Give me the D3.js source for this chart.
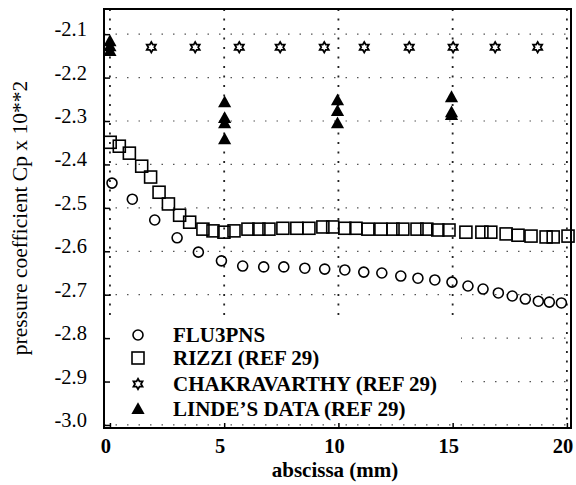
<!DOCTYPE html>
<html>
<head>
<meta charset="utf-8">
<script src="https://cdn.jsdelivr.net/npm/d3@7"></script>
<style>
  html, body { margin: 0; padding: 0; background: #fff; }
  svg { display: block; }
  text { font-family: "Liberation Serif", "Times New Roman", serif; fill: #000; }
</style>
</head>
<body>
<svg id="chart" width="576" height="485"></svg>
<script>
// ---- data ----
const xTicks = [0, 5, 10, 15, 20];
const yTicks = [-2.1, -2.2, -2.3, -2.4, -2.5, -2.6, -2.7, -2.8, -2.9, -3.0];
const yTickLabels = ["-2.1", "-2.2", "-2.3", "-2.4", "-2.5", "-2.6", "-2.7", "-2.8", "-2.9", "-3.0"];

const flu3pnsX = [0.09, 0.98, 1.96, 2.94, 3.87, 4.88, 5.81, 6.73, 7.61, 8.53, 9.40, 10.28, 11.11,
  11.90, 12.73, 13.48, 14.22, 14.97, 15.67, 16.33, 17.00, 17.61, 18.18, 18.75, 19.23, 19.76];
const flu3pnsY = [-2.443, -2.480, -2.528, -2.569, -2.602, -2.622, -2.634, -2.636, -2.636, -2.639,
  -2.641, -2.643, -2.648, -2.650, -2.657, -2.662, -2.666, -2.671, -2.680, -2.687, -2.696, -2.703,
  -2.710, -2.715, -2.717, -2.719];

const rizziX = [0.01, 0.41, 0.85, 1.39, 1.78, 2.15, 2.56, 3.05, 3.49, 4.07, 4.51, 4.99, 5.43, 6.04,
  6.52, 6.96, 7.57, 8.18, 8.71, 9.32, 9.75, 10.28, 10.77, 11.29, 11.86, 12.39, 12.82, 13.44, 13.87,
  14.35, 14.84, 15.58, 16.28, 16.67, 17.34, 17.86, 18.43, 19.09, 19.40, 20.05];
const rizziY = [-2.349, -2.358, -2.374, -2.404, -2.429, -2.464, -2.491, -2.517, -2.533, -2.549,
  -2.553, -2.556, -2.553, -2.549, -2.549, -2.549, -2.547, -2.547, -2.547, -2.544, -2.544, -2.547,
  -2.547, -2.549, -2.549, -2.549, -2.549, -2.549, -2.549, -2.551, -2.551, -2.556, -2.556, -2.556,
  -2.560, -2.563, -2.565, -2.567, -2.567, -2.565];

const chakX = [1.81, 3.73, 5.66, 7.45, 9.38, 11.13, 13.10, 15.02, 16.86, 18.72];
const chakY = [-2.130, -2.130, -2.130, -2.130, -2.130, -2.130, -2.130, -2.130, -2.130, -2.130];

const lindeX = [0, 0, 0, 5.02, 5.02, 5.02, 5.02, 9.96, 9.96, 9.96, 14.95, 14.95, 14.95];
const lindeY = [-2.116, -2.128, -2.139, -2.257, -2.293, -2.305, -2.342, -2.252, -2.277, -2.305,
  -2.245, -2.280, -2.286];

const legendLabels = ["FLU3PNS", "RIZZI (REF 29)", "CHAKRAVARTHY (REF 29)", "LINDE\u2019S DATA (REF 29)"];
const legendKinds = ["circle", "square", "star", "triangle"];

// ---- drawing ----
const svg = d3.select("#chart");
const x = d3.scaleLinear().domain([-0.26, 20.18]).range([104, 571]);
const y = d3.scaleLinear().domain([-2.042, -3.007]).range([9, 428]);
const [x0, x1] = x.range();
const [y0, y1] = y.range();

const zip = (a, b) => a.map((v, i) => [v, b[i]]);

function hexagram(r) {
  const ri = r / Math.sqrt(3);
  const pts = [];
  for (let i = 0; i < 12; i++) {
    const a = -Math.PI / 2 + i * Math.PI / 6;
    const rr = i % 2 === 0 ? r : ri;
    pts.push([rr * Math.cos(a), rr * Math.sin(a)]);
  }
  return "M" + pts.map(p => p.join(",")).join("L") + "Z";
}
const triPath = "M0,-6.8L6.6,5L-6.6,5Z";

function drawMark(g, kind, cx, cy) {
  if (kind === "circle") {
    g.append("circle").attr("cx", cx).attr("cy", cy).attr("r", 5)
      .attr("fill", "none").attr("stroke", "#000").attr("stroke-width", 1.6);
  } else if (kind === "square") {
    g.append("rect").attr("x", cx - 6).attr("y", cy - 6).attr("width", 12).attr("height", 12)
      .attr("fill", "none").attr("stroke", "#000").attr("stroke-width", 1.6);
  } else if (kind === "star") {
    g.append("path").attr("d", hexagram(5.2)).attr("transform", `translate(${cx},${cy})`)
      .attr("fill", "#fff").attr("stroke", "#000").attr("stroke-width", 1.8);
  } else {
    g.append("path").attr("d", triPath).attr("transform", `translate(${cx},${cy})`)
      .attr("fill", "#000");
  }
}

// grid
const grid = svg.append("g");
grid.selectAll("line.h").data(yTicks).join("line")
  .attr("x1", x0).attr("x2", x1).attr("y1", d => y(d)).attr("y2", d => y(d))
  .attr("stroke", "#555").attr("stroke-width", 1.2).attr("stroke-dasharray", "1.5,10");
grid.selectAll("line.v").data(xTicks).join("line")
  .attr("y1", y0).attr("y2", y1).attr("x1", d => x(d)).attr("x2", d => x(d))
  .attr("stroke", "#222").attr("stroke-width", 1.8).attr("stroke-dasharray", "2,7.5");

// data marks
const marks = svg.append("g");
zip(rizziX, rizziY).forEach(([a, b]) => drawMark(marks, "square", x(a), y(b)));
zip(flu3pnsX, flu3pnsY).forEach(([a, b]) => drawMark(marks, "circle", x(a), y(b)));
zip(chakX, chakY).forEach(([a, b]) => drawMark(marks, "star", x(a), y(b)));
zip(lindeX, lindeY).forEach(([a, b]) => drawMark(marks, "triangle", x(a), y(b)));

// legend (white box hides grid)
const lg = svg.append("g");
lg.append("rect").attr("x", x0 + 2).attr("y", 321).attr("width", 355).attr("height", 99).attr("fill", "#fff");
legendLabels.forEach((lab, i) => {
  const cy = [335, 358, 384, 409][i];
  drawMark(lg, legendKinds[i], 138, cy);
  lg.append("text").attr("x", 173).attr("y", cy + 7)
    .attr("font-size", 21).attr("font-weight", "bold").text(lab);
});

// frame
svg.append("rect").attr("x", x0).attr("y", y0).attr("width", x1 - x0).attr("height", y1 - y0)
  .attr("fill", "none").attr("stroke", "#000").attr("stroke-width", 2);

// axis ticks (inward)
const ya = svg.append("g").attr("transform", `translate(${x0},0)`)
  .call(d3.axisRight(y).tickValues(yTicks).tickSize(6).tickFormat(""));
ya.select(".domain").remove();
ya.selectAll("line").attr("stroke-width", 1.5);
const xa = svg.append("g").attr("transform", `translate(0,${y1})`)
  .call(d3.axisTop(x).tickValues(xTicks).tickSize(5).tickFormat(""));
xa.select(".domain").remove();
xa.selectAll("line").attr("stroke-width", 1.5);

// tick labels
svg.append("g").selectAll("text").data(yTicks).join("text")
  .attr("x", 87).attr("y", d => y(d) + 2).attr("text-anchor", "end")
  .attr("font-size", 20.5).text((d, i) => yTickLabels[i]);
svg.append("g").selectAll("text").data(xTicks).join("text")
  .attr("x", d => x(d) - 4).attr("y", 453).attr("text-anchor", "middle")
  .attr("font-size", 20.5).attr("font-weight", "bold").text(d => d);

// axis titles
svg.append("text").attr("x", 335).attr("y", 477).attr("text-anchor", "middle")
  .attr("font-size", 21).attr("font-weight", "bold").text("abscissa (mm)");
svg.append("text").attr("transform", "translate(27,218) rotate(-90)").attr("text-anchor", "middle")
  .attr("font-size", 21.5).text("pressure coefficient Cp x 10**2");
</script>
</body>
</html>
